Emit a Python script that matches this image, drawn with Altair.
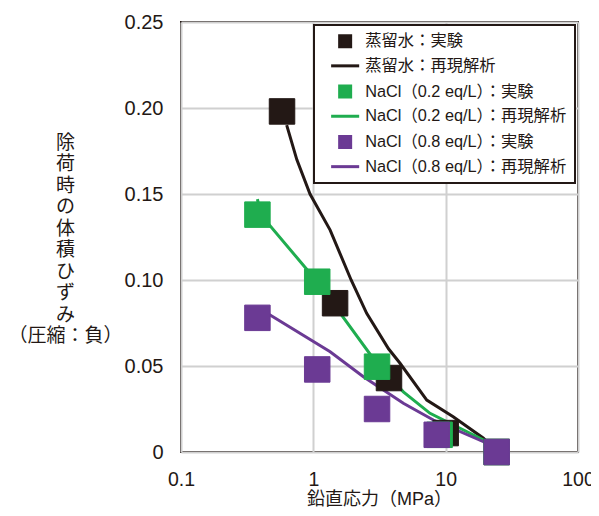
import altair as alt
import pandas as pd

# ---- data ----
series_names = [
    "蒸留水：実験", "蒸留水：再現解析",
    "NaCl（0.2 eq/L）：実験", "NaCl（0.2 eq/L）：再現解析",
    "NaCl（0.8 eq/L）：実験", "NaCl（0.8 eq/L）：再現解析",
]
series_colors = ["#231815", "#231815", "#1fad4f", "#1fad4f", "#6b3a94", "#6b3a94"]

# experiments
water_x = [0.58, 1.46, 3.73, 10.0, 24.3]
water_y = [0.198, 0.0865, 0.043, 0.011, 0.0]
nacl02_x = [0.378, 1.07, 3.03, 9.0, 24.3]
nacl02_y = [0.138, 0.099, 0.0496, 0.010, 0.0]
nacl08_x = [0.378, 1.07, 3.03, 8.56, 24.3]
nacl08_y = [0.078, 0.048, 0.025, 0.010, 0.0]

# reproduction analyses (lines)
water_fit_x = [0.629, 0.75, 0.944, 1.0, 1.34, 1.93, 2.53, 3.7, 4.52, 7.2, 11.4, 19.3, 24.3]
water_fit_y = [0.190, 0.170, 0.150, 0.1465, 0.129, 0.100, 0.0806, 0.060, 0.0516, 0.0302, 0.0205, 0.008, 0.0]
nacl02_fit_x = [0.378, 0.40, 1.07, 3.01, 4.79, 7.62, 19.3, 24.3]
nacl02_fit_y = [0.147, 0.138, 0.099, 0.0516, 0.035, 0.0225, 0.007, 0.0]
nacl08_fit_x = [0.40, 1.34, 2.39, 4.79, 8.07, 19.3, 24.3]
nacl08_fit_y = [0.083, 0.0583, 0.0438, 0.0283, 0.0186, 0.006, 0.0]

x_ticks = [0.1, 1, 10, 100]
y_ticks = [0, 0.05, 0.10, 0.15, 0.20, 0.25]

# ---- tables ----
pts = pd.concat([
    pd.DataFrame({"x": water_x, "y": water_y, "s": series_names[0]}),
    pd.DataFrame({"x": nacl02_x, "y": nacl02_y, "s": series_names[2]}),
    pd.DataFrame({"x": nacl08_x, "y": nacl08_y, "s": series_names[4]}),
], ignore_index=True)
pts["o"] = range(len(pts))
lines = pd.concat([
    pd.DataFrame({"x": water_fit_x, "y": water_fit_y, "s": series_names[1]}),
    pd.DataFrame({"x": nacl02_fit_x, "y": nacl02_fit_y, "s": series_names[3]}),
    pd.DataFrame({"x": nacl08_fit_x, "y": nacl08_fit_y, "s": series_names[5]}),
], ignore_index=True)
lines["o"] = range(len(lines))

FONT = "Liberation Sans, Noto Sans CJK JP, sans-serif"
SQUARE = "M-1,-1H1V1H-1Z"
LINE = "M-2.55,0H2.55"
shapes = [SQUARE, LINE, SQUARE, LINE, SQUARE, LINE]

x_enc = alt.X("x:Q", scale=alt.Scale(type="log", domain=[0.1, 100]),
              axis=alt.Axis(values=x_ticks, title="鉛直応力（MPa）",
                            labelExpr="datum.value < 1 ? '0.1' : format(datum.value, 'd')",
                            labelFlush=False, labelPadding=18, labelFontSize=19.5,
                            titleFontSize=18,
                            titleX=198, titleY=47, titleBaseline="middle"))
y_enc = alt.Y("y:Q", scale=alt.Scale(domain=[0, 0.25]),
              axis=alt.Axis(values=y_ticks,
                            title=["除", "荷", "時", "の", "体", "積", "ひ", "ず", "み", "（圧縮：負）"],
                            labelExpr="datum.value == 0 ? '0' : format(datum.value, '.2f')",
                            labelPadding=18, labelFontSize=20,
                            titleFontSize=19,
                            titleAngle=0, titleAlign="center", titleBaseline="middle",
                            titleX=-116, titleY=120, titleLineHeight=21.5))

line_layer = alt.Chart(lines).mark_line(strokeWidth=3, clip=True).encode(
    x=x_enc, y=y_enc,
    detail="s:N",
    order="o:Q",
    color=alt.Color("s:N", legend=None,
                    scale=alt.Scale(domain=[series_names[1], series_names[3], series_names[5]],
                                    range=[series_colors[1], series_colors[3], series_colors[5]])),
)

point_layer = alt.Chart(pts).mark_point(filled=True, size=650, opacity=1, strokeWidth=1).encode(
    x=x_enc, y=y_enc,
    shape=alt.Shape("s:N", scale=alt.Scale(domain=series_names, range=shapes), title=None),
    fill=alt.Fill("s:N", scale=alt.Scale(domain=series_names, range=series_colors), title=None),
    stroke=alt.Stroke("s:N", scale=alt.Scale(domain=series_names, range=series_colors), title=None),
)

chart = alt.layer(line_layer, point_layer).properties(
    width=397, height=430,
    autosize=alt.AutoSizeParams(type="none"),
    padding={"left": 173, "top": 14, "right": 13, "bottom": 56},
).configure_view(
    stroke="#231815", strokeWidth=2,
).configure_axis(
    grid=True, gridColor="#d0d0d0", gridWidth=2,
    domain=False, ticks=False,
    labelFont=FONT, labelColor="#231815",
    titleFont=FONT, titleFontWeight="normal", titleColor="#231815",
).configure_legend(
    orient="top-right", offset=3, padding=8,
    strokeColor="#231815", strokeWidth=2, fillColor="white",
    symbolSize=121, symbolStrokeWidth=3, symbolOffset=15,
    labelOffset=12, labelFont=FONT, labelFontSize=16.3, labelColor="#231815",
    rowPadding=4.7, labelLimit=400,
)

chart.save("out.html", embed_options={"renderer": "svg", "actions": False})
